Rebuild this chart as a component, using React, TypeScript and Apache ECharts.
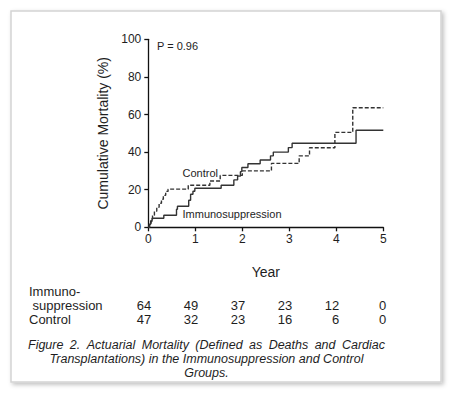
import React, { useEffect, useRef } from "react";
import * as echarts from "echarts";

// ---- data ----
const immunoSteps: [number, number][] = [
  [0, 0], [0.02, 1.6], [0.05, 3.2], [0.08, 4.8], [0.33, 6.4], [0.6, 9.6], [0.62, 11.2],
  [0.86, 14.4], [0.9, 17.6], [0.95, 19.2], [0.99, 20.8], [1.55, 22.4], [1.82, 25.2],
  [1.9, 27.2], [1.96, 29.6], [1.99, 31.8], [2.12, 33.8], [2.38, 35.8], [2.6, 38.0],
  [2.66, 40.0], [2.98, 42.4], [3.06, 44.7], [4.42, 51.6], [5, 51.6],
];
const controlSteps: [number, number][] = [
  [0, 0], [0.03, 2.1], [0.06, 4.3], [0.09, 6.4], [0.13, 8.5], [0.18, 10.6], [0.23, 12.8],
  [0.28, 14.9], [0.32, 17.0], [0.37, 19.1], [0.42, 20.3], [0.85, 22.4], [1.31, 24.6],
  [1.53, 27.6], [2.0, 30.0], [2.62, 34.0], [3.21, 38.0], [3.43, 42.3], [3.97, 50.5],
  [4.35, 63.6], [5, 63.6],
];
const yearTicks = [0, 1, 2, 3, 4, 5];
const atRiskImmuno = [64, 49, 37, 23, 12, 0];
const atRiskControl = [47, 32, 23, 16, 6, 0];
const pValueText = "P = 0.96";
const captionLines = [
  "Figure 2. Actuarial Mortality (Defined as Deaths and Cardiac",
  "Transplantations) in the Immunosuppression and Control",
  "Groups.",
];

const W = 453;
const H = 394;
const GRID = { left: 148.3, right: 69.7, top: 39.3, bottom: 166.7 };
const FONT = "'Liberation Sans', Arial, sans-serif";
const TXT = "#1e1e1e";
const CAP_FONT = `italic 12.5px ${FONT}`;

function justifiedWords(line: string, x0: number, x1: number, y: number): any[] {
  const words = line.split(" ");
  const ctx = document.createElement("canvas").getContext("2d");
  let widths = words.map((w) => w.length * 6.5);
  if (ctx) {
    ctx.font = CAP_FONT;
    widths = words.map((w) => ctx.measureText(w).width);
  }
  const total = widths.reduce((a, b) => a + b, 0);
  const gap = (x1 - x0 - total) / (words.length - 1);
  let x = x0;
  return words.map((w, i) => {
    const el = {
      type: "text",
      x,
      y,
      z: 100,
      style: { text: w, font: CAP_FONT, fill: TXT, align: "left", verticalAlign: "middle" },
    };
    x += widths[i] + gap;
    return el;
  });
}

export default function App() {
  const ref = useRef<HTMLDivElement>(null);
  useEffect(() => {
    document.body.style.margin = "0";
    if (!ref.current) return;
    const chart = echarts.init(ref.current, undefined, { renderer: "svg" });
    const plotW = W - GRID.left - GRID.right;
    const xOf = (yr: number) => GRID.left + (yr / 5) * plotW;

    const tableTexts: any[] = [];
    yearTicks.forEach((yr, i) => {
      tableTexts.push({
        type: "text",
        x: xOf(yr) + 3,
        y: 305,
        z: 100,
        style: { text: String(atRiskImmuno[i]), font: `13px ${FONT}`, fill: TXT, align: "right", verticalAlign: "middle" },
      });
      tableTexts.push({
        type: "text",
        x: xOf(yr) + 3,
        y: 319.5,
        z: 100,
        style: { text: String(atRiskControl[i]), font: `13px ${FONT}`, fill: TXT, align: "right", verticalAlign: "middle" },
      });
    });

    const captionEls: any[] = [
      ...justifiedWords(captionLines[0], 28, 385, 345),
      ...captionLines.slice(1).map((t, i) => ({
        type: "text",
        x: 206.5,
        y: 345 + (i + 1) * 14.2,
        z: 100,
        style: { text: t, font: CAP_FONT, fill: TXT, align: "center", verticalAlign: "middle" },
      })),
    ];

    const option: any = {
      animation: false,
      backgroundColor: "transparent",
      grid: { left: GRID.left, right: GRID.right, top: GRID.top, bottom: GRID.bottom, containLabel: false },
      xAxis: {
        type: "value",
        min: 0,
        max: 5,
        interval: 1,
        name: "Year",
        nameLocation: "middle",
        nameGap: 38,
        nameTextStyle: { fontFamily: FONT, fontSize: 14, color: TXT },
        axisLine: { show: true, onZero: false, lineStyle: { color: "#111", width: 1.3 } },
        axisTick: { show: true, length: 4, lineStyle: { color: "#111", width: 1.3 } },
        axisLabel: { fontFamily: FONT, fontSize: 12, color: TXT, margin: 6 },
        splitLine: { show: false },
      },
      yAxis: {
        type: "value",
        min: 0,
        max: 100,
        interval: 20,
        name: "Cumulative Mortality (%)",
        nameLocation: "middle",
        nameRotate: 90,
        nameGap: 38,
        nameTextStyle: { fontFamily: FONT, fontSize: 14, color: TXT },
        axisLine: { show: true, lineStyle: { color: "#111", width: 1.3 } },
        axisTick: { show: true, length: 4, lineStyle: { color: "#111", width: 1.3 } },
        axisLabel: { fontFamily: FONT, fontSize: 12, color: TXT, margin: 7 },
        splitLine: { show: false },
      },
      series: [
        {
          name: "Immunosuppression",
          type: "line",
          step: "end",
          data: immunoSteps,
          showSymbol: false,
          lineStyle: { color: "#333", width: 1.4, type: "solid" },
        },
        {
          name: "Control",
          type: "line",
          step: "end",
          data: controlSteps,
          showSymbol: false,
          lineStyle: { color: "#333", width: 1.4, type: [4, 2] },
        },
      ],
      graphic: [
        {
          type: "rect",
          z: -10,
          shape: { x: 11, y: 11, width: 430, height: 371 },
          style: {
            fill: "#fff",
            stroke: "#d4d4d4",
            lineWidth: 1.5,
            shadowBlur: 4,
            shadowOffsetX: 2,
            shadowOffsetY: 2,
            shadowColor: "rgba(0,0,0,0.25)",
          },
        },
        {
          type: "text", x: 157, y: 46, z: 100,
          style: { text: pValueText, font: `11px ${FONT}`, fill: TXT, verticalAlign: "middle" },
        },
        {
          type: "text", x: 182.5, y: 172.5, z: 100,
          style: { text: "Control", font: `11px ${FONT}`, fill: TXT, verticalAlign: "middle" },
        },
        {
          type: "text", x: 182.5, y: 214, z: 100,
          style: { text: "Immunosuppression", font: `11px ${FONT}`, fill: TXT, verticalAlign: "middle" },
        },
        {
          type: "text", x: 29, y: 291.4, z: 100,
          style: { text: "Immuno-", font: `13px ${FONT}`, fill: TXT, verticalAlign: "middle" },
        },
        {
          type: "text", x: 32.5, y: 305, z: 100,
          style: { text: "suppression", font: `13px ${FONT}`, fill: TXT, verticalAlign: "middle" },
        },
        {
          type: "text", x: 29, y: 319.5, z: 100,
          style: { text: "Control", font: `13px ${FONT}`, fill: TXT, verticalAlign: "middle" },
        },
        ...tableTexts,
        ...captionEls,
      ],
    };
    chart.setOption(option);
    return () => chart.dispose();
  }, []);
  return <div ref={ref} style={{ position: "absolute", left: 0, top: 0, width: W, height: H }} />;
}
